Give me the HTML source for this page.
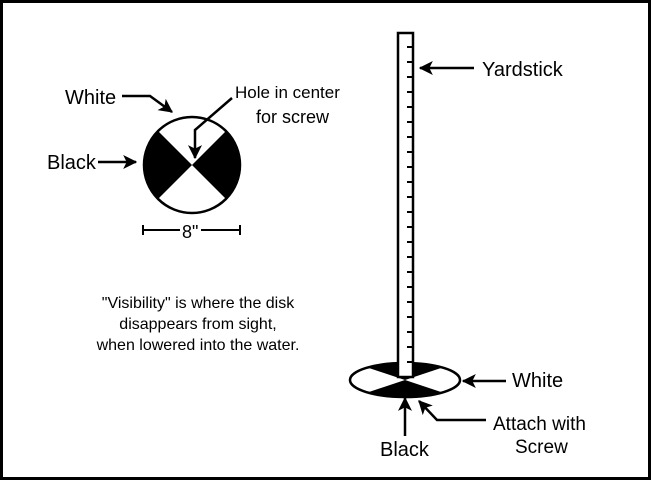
<!DOCTYPE html>
<html><head><style>
html,body{margin:0;padding:0;background:#fff}
svg{display:block}
text{font-family:"Liberation Sans",Arial,sans-serif;font-size:20px;fill:#000}
</style></head><body>
<svg width="651" height="480" viewBox="0 0 651 480" xmlns="http://www.w3.org/2000/svg">
<defs>
<marker id="a" viewBox="0 0 12 12" refX="11" refY="6" markerWidth="14" markerHeight="14" orient="auto" markerUnits="userSpaceOnUse">
<path d="M0,0 L12,6 L0,12 L3,6 Z" fill="#000"/>
</marker>
<clipPath id="cc"><circle cx="192" cy="165" r="48"/></clipPath>
<clipPath id="ce"><ellipse cx="405" cy="380" rx="55" ry="17"/></clipPath>
</defs>
<rect x="1.5" y="1.5" width="648" height="477" fill="none" stroke="#000" stroke-width="3"/>

<g clip-path="url(#cc)">
<polygon points="192,165 130,103 130,227" fill="#000"/>
<polygon points="192,165 254,103 254,227" fill="#000"/>
</g>
<circle cx="192" cy="165" r="48" fill="none" stroke="#000" stroke-width="2.5"/>

<text x="65" y="104">White</text>
<text x="47" y="169">Black</text>
<text x="235" y="98" style="font-size:17px">Hole in center</text>
<text x="256" y="123" style="font-size:18px">for screw</text>
<text x="182" y="238" style="font-size:18px">8"</text>
<path d="M143,230 H180 M201,230 H240 M143,225 V235 M240,225 V235" stroke="#000" stroke-width="2" fill="none"/>

<path d="M122,96 H150 L172,112" stroke="#000" stroke-width="2.5" fill="none" marker-end="url(#a)"/>
<path d="M232,98 L195,130 L195,158" stroke="#000" stroke-width="2.5" fill="none" marker-end="url(#a)"/>
<path d="M98,162 H136" stroke="#000" stroke-width="2.5" fill="none" marker-end="url(#a)"/>

<text x="198" y="308" text-anchor="middle" style="font-size:16px">"Visibility" is where the disk</text>
<text x="198" y="329" text-anchor="middle" style="font-size:16px">disappears from sight,</text>
<text x="198" y="350" text-anchor="middle" style="font-size:16px">when lowered into the water.</text>

<g clip-path="url(#ce)">
<polygon points="405,380 345,360 465,360" fill="#000"/>
<polygon points="405,380 345,400 465,400" fill="#000"/>
</g>
<ellipse cx="405" cy="380" rx="55" ry="17" fill="none" stroke="#000" stroke-width="2.5"/>

<rect x="398" y="33" width="15" height="344" fill="#fff" stroke="#000" stroke-width="2.5"/>
<path d="M407,47 H413 M407,62 H413 M407,77 H413 M407,92 H413 M407,107 H413 M407,122 H413 M407,137 H413 M407,152 H413 M407,167 H413 M407,182 H413 M407,197 H413 M407,212 H413 M407,227 H413 M407,242 H413 M407,257 H413 M407,272 H413 M407,287 H413 M407,302 H413 M407,317 H413 M407,332 H413 M407,347 H413 M407,362 H413" stroke="#000" stroke-width="2"/>

<text x="482" y="76">Yardstick</text>
<path d="M474,68 H420" stroke="#000" stroke-width="2.5" fill="none" marker-end="url(#a)"/>
<text x="512" y="387">White</text>
<path d="M506,381 H463" stroke="#000" stroke-width="2.5" fill="none" marker-end="url(#a)"/>
<text x="493" y="430" style="font-size:19px">Attach with</text>
<text x="515" y="453" style="font-size:19px">Screw</text>
<path d="M486,420 H437 L419,401" stroke="#000" stroke-width="2.5" fill="none" marker-end="url(#a)"/>
<text x="380" y="456">Black</text>
<path d="M405,436 V398" stroke="#000" stroke-width="2.5" fill="none" marker-end="url(#a)"/>
</svg>
</body></html>
